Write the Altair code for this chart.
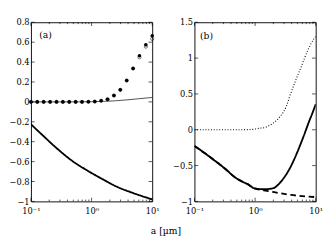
import altair as alt
import pandas as pd

FONT = "DejaVu Serif"

# ---------- panel (a) data ----------
dot_x = [0.1, 0.127, 0.162, 0.207, 0.264, 0.336, 0.428, 0.546, 0.695, 0.886,
         1.129, 1.438, 1.833, 2.336, 2.976, 3.793, 4.833, 6.158, 7.848, 10.0]
dot_y = [0, 0, 0, 0, 0, 0, 0, 0, 0, 0.001,
         0.003, 0.011, 0.026, 0.064, 0.121, 0.215, 0.336, 0.464, 0.573, 0.664]
circ_y = [0, 0, 0, 0, 0, 0, 0, 0, 0, 0.001,
          0.003, 0.011, 0.026, 0.064, 0.121, 0.215, 0.336, 0.448, 0.555, 0.633]
thin_x = [0.1, 0.3, 1.0, 2.0, 3.0, 5.0, 10.0]
thin_y = [0, 0, 0.002, 0.008, 0.015, 0.027, 0.045]
a_thick_x = [0.1, 0.15, 0.265, 0.47, 0.89, 1.5, 2.6, 4.7, 10.0]
a_thick_y = [-0.225, -0.326, -0.465, -0.589, -0.697, -0.775, -0.852, -0.913, -0.98]

# ---------- panel (b) data ----------
b_dot_x = [0.1, 0.5, 0.9, 1.17, 1.47, 1.75, 2.08, 2.48, 2.94, 3.30, 3.70, 4.67,
           5.89, 7.41, 9.55, 10.0]
b_dot_y = [0, 0, 0.005, 0.02, 0.033, 0.063, 0.104, 0.167, 0.25, 0.335, 0.46, 0.69,
           0.90, 1.11, 1.28, 1.30]
b_sol_x = [0.1, 0.204, 0.363, 0.414, 0.646, 0.738, 0.98, 1.39, 1.96, 2.48, 3.11,
           3.93, 4.95, 6.22, 7.85, 8.79, 10.0]
b_sol_y = [-0.225, -0.415, -0.585, -0.63, -0.733, -0.755, -0.818, -0.83, -0.818,
           -0.755, -0.65, -0.503, -0.315, -0.105, 0.126, 0.23, 0.356]
b_dash_x = [0.1, 0.204, 0.363, 0.414, 0.646, 0.738, 0.98, 1.39, 1.96, 3.93, 10.0]
b_dash_y = [-0.225, -0.415, -0.585, -0.63, -0.733, -0.755, -0.818, -0.845, -0.868,
            -0.91, -0.94]

x_major = [0.1, 1.0, 10.0]
x_minor = [0.2, 0.3, 0.4, 0.5, 0.6, 0.7, 0.8, 0.9, 2, 3, 4, 5, 6, 7, 8, 9]
ya_ticks = [-1, -0.8, -0.6, -0.4, -0.2, 0, 0.2, 0.4, 0.6, 0.8]
yb_ticks = [-1, -0.5, 0, 0.5, 1, 1.5]

W, H = 132, 195


def panel(curves, ydom, yticks, label, label_xy):
    xs = alt.Scale(type="log", domain=[0.1, 10], nice=False)
    ys = alt.Scale(domain=ydom, nice=False, zero=False)
    xaxis = alt.Axis(values=x_major, ticks=False, grid=False, domain=False, title=None,
                     labelExpr="datum.value < 0.5 ? '10⁻¹' : datum.value < 5 ? '10⁰' : '10¹'",
                     labelPadding=6, labelFlush=False)
    yaxis = alt.Axis(values=yticks, ticks=False, grid=False, domain=False, title=None,
                     format="~g",
                     labelExpr="replace(datum.label, /[-−]/, '−')", labelPadding=2)
    layers = []
    for c in curves:
        df = pd.DataFrame({"x": c["x"], "y": c["y"]})
        enc = dict(x=alt.X("x:Q", scale=xs, axis=xaxis), y=alt.Y("y:Q", scale=ys, axis=yaxis))
        if c["kind"] == "line":
            m = alt.Chart(df).mark_line(color="black", strokeWidth=c["w"],
                                        strokeDash=c.get("dash", [1, 0]),
                                        interpolate="monotone", clip=True).encode(**enc)
        elif c["kind"] == "dot":
            m = alt.Chart(df).mark_circle(color="black", size=15, opacity=1).encode(**enc)
        else:
            m = alt.Chart(df).mark_point(color="black", size=12, strokeWidth=0.8,
                                         filled=False).encode(**enc)
        layers.append(m)
    # inward ticks
    xmaj = pd.DataFrame({"x": x_major})
    xmin = pd.DataFrame({"x": x_minor})
    yt = pd.DataFrame({"y": yticks})
    for df, ln in [(xmaj, 4), (xmin, 2)]:
        layers.append(alt.Chart(df).mark_rule(color="black", strokeWidth=0.7).encode(
            x=alt.X("x:Q", scale=xs, axis=xaxis), y=alt.value(H), y2=alt.value(H - ln)))
        layers.append(alt.Chart(df).mark_rule(color="black", strokeWidth=0.7).encode(
            x=alt.X("x:Q", scale=xs, axis=xaxis), y=alt.value(0), y2=alt.value(ln)))
    layers.append(alt.Chart(yt).mark_rule(color="black", strokeWidth=0.7).encode(
        y=alt.Y("y:Q", scale=ys, axis=yaxis), x=alt.value(0), x2=alt.value(4)))
    layers.append(alt.Chart(yt).mark_rule(color="black", strokeWidth=0.7).encode(
        y=alt.Y("y:Q", scale=ys, axis=yaxis), x=alt.value(W), x2=alt.value(W - 4)))
    ldf = pd.DataFrame({"x": [label_xy[0]], "y": [label_xy[1]], "t": [label]})
    layers.append(alt.Chart(ldf).mark_text(font=FONT, fontSize=10, align="left",
                                           baseline="middle", color="black").encode(
        x=alt.X("x:Q", scale=xs, axis=xaxis), y=alt.Y("y:Q", scale=ys, axis=yaxis), text="t:N"))
    return alt.layer(*layers).properties(width=W, height=H)


pa = panel([
    {"kind": "line", "x": thin_x, "y": thin_y, "w": 0.8},
    {"kind": "line", "x": a_thick_x, "y": a_thick_y, "w": 2},
    {"kind": "open", "x": dot_x, "y": circ_y},
    {"kind": "dot", "x": dot_x, "y": dot_y},
], [-1, 0.8], ya_ticks, "(a)", (0.137, 0.665))

pb = panel([
    {"kind": "line", "x": b_dot_x, "y": b_dot_y, "w": 1.2, "dash": [1, 2]},
    {"kind": "line", "x": b_dash_x, "y": b_dash_y, "w": 2, "dash": [6, 4]},
    {"kind": "line", "x": b_sol_x, "y": b_sol_y, "w": 2},
], [-1, 1.5], yb_ticks, "(b)", (0.123, 1.31))

chart = alt.hconcat(pa, pb, spacing=12).properties(
    title=alt.TitleParams("a [µm]", orient="bottom", anchor="middle", font=FONT,
                          fontSize=10, fontWeight="normal", offset=12, color="black"),
    padding={"left": 0, "top": 0, "right": 0, "bottom": 0},
).configure(font=FONT).configure_view(stroke="black", strokeWidth=1).configure_axis(
    labelFont=FONT, labelFontSize=9, labelColor="black"
).configure_concat(spacing=12)

chart.save("out.html", embed_options={"renderer": "svg", "actions": False})
